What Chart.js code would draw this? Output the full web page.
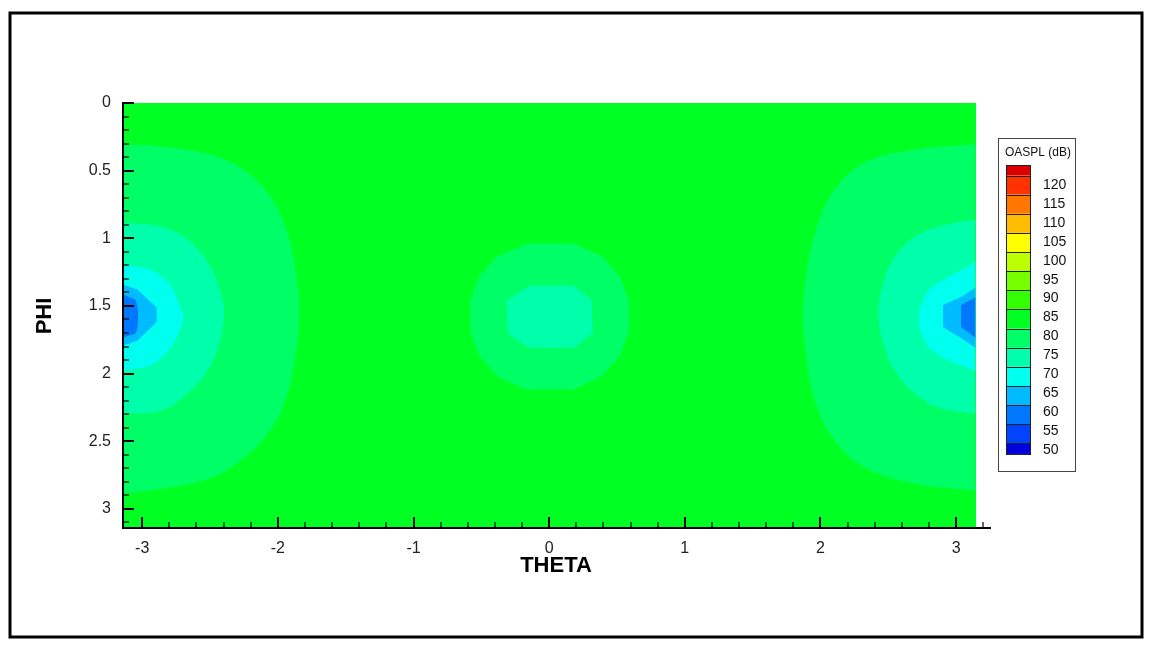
<!DOCTYPE html>
<html>
<head>
<meta charset="utf-8">
<title>OASPL directivity</title>
<script src="https://cdn.jsdelivr.net/npm/chart.js@4.4.0/dist/chart.umd.min.js"></script>
<style>
  html, body { margin: 0; padding: 0; background: #fff; }
  canvas { display: block; }
</style>
</head>
<body>
<canvas id="contour" width="1153" height="648"></canvas>
<script>
const PI = Math.PI;

// contour levels shown in the colour key (dB)
const levels = [120, 115, 110, 105, 100, 95, 90, 85, 80, 75, 70, 65, 60, 55, 50];
// flood colours, top of the key to the bottom
const floodColors = [
  '#dd0000', '#ff3300', '#ff7700', '#ffbb00', '#ffff00', '#bbff00', '#77ff00', '#33ff00',
  '#00ff22', '#00ff66', '#00ffaa', '#00ffee', '#00bbff', '#0077ff', '#0044ff', '#0000dd'
];

// axis tick labels
const thetaLabels = [-3, -2, -1, 0, 1, 2, 3];
const phiLabels = [0, 0.5, 1, 1.5, 2, 2.5, 3];

// contour outlines, [theta, phi]
const fieldOutline = [[-PI, 0], [PI, 0], [PI, PI], [-PI, PI]];

const left80 = [[-PI, 0.31], [-2.87, 0.325], [-2.50, 0.385], [-2.25, 0.50], [-2.075, 0.67], [-1.957, 0.89],
  [-1.883, 1.18], [-1.846, 1.55], [-1.883, 1.92], [-1.957, 2.22], [-2.075, 2.44], [-2.25, 2.62],
  [-2.50, 2.77], [-2.87, 2.85], [-PI, 2.88]];
const left75 = [[-PI, 0.888], [-2.866, 0.917], [-2.666, 1.013], [-2.518, 1.183], [-2.437, 1.361], [-2.40, 1.553],
  [-2.437, 1.775], [-2.518, 1.975], [-2.666, 2.145], [-2.866, 2.271], [-PI, 2.293]];
const left70 = [[-PI, 1.198], [-2.94, 1.235], [-2.806, 1.331], [-2.733, 1.479], [-2.70, 1.583],
  [-2.733, 1.701], [-2.806, 1.827], [-2.94, 1.938], [-PI, 1.975]];
const left65 = [[-PI, 1.346], [-3.035, 1.383], [-2.90, 1.509], [-2.90, 1.62], [-3.035, 1.753], [-PI, 1.79]];
const left60 = [[-PI, 1.42], [-3.05, 1.457], [-3.035, 1.53], [-3.035, 1.642], [-3.05, 1.70], [-PI, 1.73]];

const right80 = [[PI, 0.31], [2.696, 0.348], [2.326, 0.444], [2.105, 0.643], [1.987, 0.888], [1.913, 1.183],
  [1.876, 1.553], [1.913, 1.975], [1.987, 2.27], [2.105, 2.49], [2.326, 2.69], [2.696, 2.81], [PI, 2.86]];
const right75 = [[PI, 0.865], [2.873, 0.917], [2.696, 0.991], [2.548, 1.139], [2.467, 1.331], [2.43, 1.553],
  [2.467, 1.775], [2.548, 1.975], [2.696, 2.145], [2.873, 2.249], [PI, 2.293]];
const right70 = [[PI, 1.183], [2.947, 1.287], [2.799, 1.383], [2.733, 1.531], [2.733, 1.657],
  [2.799, 1.805], [2.947, 1.901], [PI, 1.975]];
const right65 = [[PI, 1.368], [3.043, 1.435], [2.91, 1.494], [2.91, 1.657], [3.043, 1.738], [PI, 1.805]];
const right60 = [[PI, 1.442], [3.043, 1.494], [3.043, 1.657], [PI, 1.731]];

const center80 = [[-0.17, 1.043], [0.177, 1.043], [0.384, 1.132], [0.517, 1.28], [0.583, 1.457], [0.583, 1.694],
  [0.517, 1.871], [0.384, 2.019], [0.177, 2.115], [-0.17, 2.115], [-0.377, 2.019], [-0.51, 1.871],
  [-0.576, 1.694], [-0.576, 1.457], [-0.51, 1.28], [-0.377, 1.132]];
const center75 = [[-0.148, 1.354], [0.177, 1.354], [0.31, 1.457], [0.318, 1.701], [0.185, 1.805],
  [-0.148, 1.805], [-0.303, 1.701], [-0.31, 1.457]];

// outer regions first, each filled with its flood colour
const bands = [
  { outline: fieldOutline, color: 8, tension: 0 },
  { outline: left80, color: 9, tension: 0.4 },
  { outline: right80, color: 9, tension: 0.4 },
  { outline: center80, color: 9, tension: 0 },
  { outline: left75, color: 10, tension: 0.4 },
  { outline: right75, color: 10, tension: 0.4 },
  { outline: center75, color: 10, tension: 0 },
  { outline: left70, color: 11, tension: 0.2 },
  { outline: right70, color: 11, tension: 0.2 },
  { outline: left65, color: 12, tension: 0 },
  { outline: right65, color: 12, tension: 0 },
  { outline: left60, color: 13, tension: 0 },
  { outline: right60, color: 13, tension: 0 }
];

// tick positions: minor every 0.2 in theta, 0.1 in phi
const thetaTicks = [];
for (let k = -15; k <= 16; k++) thetaTicks.push(+(k * 0.2).toFixed(1));
const phiTicks = [];
for (let k = 0; k <= 31; k++) phiTicks.push(+(k * 0.1).toFixed(1));

const FONT = "'Liberation Sans', Arial, sans-serif";

function tickText(value, shown) {
  const hit = shown.find(v => Math.abs(v - value) < 1e-6);
  return hit === undefined ? '' : String(hit);
}

// inward tick marks along both axes
const inwardTicks = {
  id: 'inwardTicks',
  afterDatasetsDraw(chart) {
    const { ctx, chartArea, scales } = chart;
    ctx.save();
    ctx.strokeStyle = '#000';
    scales.x.ticks.forEach(t => {
      const major = tickText(t.value, thetaLabels) !== '';
      const px = Math.round(scales.x.getPixelForValue(t.value));
      ctx.lineWidth = major ? 2 : 1.2;
      ctx.beginPath();
      ctx.moveTo(px, chartArea.bottom);
      ctx.lineTo(px, chartArea.bottom - (major ? 11 : 6));
      ctx.stroke();
    });
    scales.y.ticks.forEach(t => {
      const major = tickText(t.value, phiLabels) !== '';
      const py = Math.round(scales.y.getPixelForValue(t.value));
      ctx.lineWidth = major ? 2 : 1.2;
      ctx.beginPath();
      ctx.moveTo(chartArea.left, py);
      ctx.lineTo(chartArea.left + (major ? 11 : 6), py);
      ctx.stroke();
    });
    ctx.restore();
  }
};

// axis titles, colour key and the outer frame
const decorations = {
  id: 'decorations',
  afterDraw(chart) {
    const { ctx } = chart;
    ctx.save();

    ctx.fillStyle = '#000';
    ctx.font = 'bold 22px ' + FONT;
    ctx.textAlign = 'center';
    ctx.textBaseline = 'middle';
    ctx.fillText('THETA', 556, 566);
    ctx.translate(45, 316);
    ctx.rotate(-PI / 2);
    ctx.fillText('PHI', 0, 0);
    ctx.setTransform(1, 0, 0, 1, 0, 0);

    // colour key
    ctx.strokeStyle = '#444';
    ctx.lineWidth = 1;
    ctx.strokeRect(998.5, 138.5, 77, 333);
    ctx.fillStyle = '#111';
    ctx.font = '12px ' + FONT;
    ctx.textAlign = 'left';
    ctx.fillText('OASPL (dB)', 1005, 153);

    const top = 165, half = 10.5, step = 19.14, swX = 1006, swW = 25;
    const edges = [top, top + half];
    for (let i = 1; i <= 14; i++) edges.push(top + half + i * step);
    edges.push(edges[edges.length - 1] + half);
    for (let i = 0; i < floodColors.length; i++) {
      ctx.fillStyle = floodColors[i];
      ctx.fillRect(swX, edges[i], swW, edges[i + 1] - edges[i]);
    }
    ctx.strokeStyle = '#222';
    ctx.beginPath();
    edges.forEach(y => { ctx.moveTo(swX, Math.round(y) + 0.5); ctx.lineTo(swX + swW, Math.round(y) + 0.5); });
    ctx.moveTo(swX + 0.5, edges[0]); ctx.lineTo(swX + 0.5, edges[edges.length - 1]);
    ctx.moveTo(swX + swW - 0.5, edges[0]); ctx.lineTo(swX + swW - 0.5, edges[edges.length - 1]);
    ctx.stroke();

    ctx.fillStyle = '#111';
    ctx.font = '14px ' + FONT;
    const labTop = 185, labBottom = 450;
    levels.forEach((v, i) => {
      ctx.fillText(String(v), 1043, labTop + i * (labBottom - labTop) / (levels.length - 1));
    });

    // frame round the whole figure
    ctx.strokeStyle = '#000';
    ctx.lineWidth = 3;
    ctx.strokeRect(10, 13, 1132, 624);
    ctx.restore();
  }
};

const chart = new Chart(document.getElementById('contour'), {
  type: 'scatter',
  data: {
    datasets: bands.map((b, i) => ({
      data: b.outline.map(([x, y]) => ({ x, y })),
      showLine: true,
      fill: 'shape',
      backgroundColor: floodColors[b.color],
      borderColor: floodColors[b.color],
      borderWidth: 1,
      pointRadius: 0,
      pointHoverRadius: 0,
      tension: b.tension,
      order: bands.length - i
    }))
  },
  options: {
    responsive: false,
    devicePixelRatio: 1,
    animation: false,
    events: [],
    layout: { padding: { left: 0, top: 103, right: 163, bottom: 0 } },
    plugins: {
      legend: { display: false },
      tooltip: { enabled: false }
    },
    scales: {
      x: {
        type: 'linear',
        min: -PI,
        max: 3.25,
        grid: { display: false },
        border: { display: true, color: '#000', width: 2, z: 1 },
        afterBuildTicks: s => { s.ticks = thetaTicks.map(v => ({ value: v })); },
        afterFit: s => { s.height = 120; },
        ticks: {
          autoSkip: false,
          maxRotation: 0,
          padding: 3,
          color: '#222',
          font: { family: FONT, size: 16 },
          callback: v => tickText(v, thetaLabels)
        }
      },
      y: {
        type: 'linear',
        reverse: true,
        min: 0,
        max: PI,
        grid: { display: false },
        border: { display: true, color: '#000', width: 2, z: 1 },
        afterBuildTicks: s => { s.ticks = phiTicks.map(v => ({ value: v })); },
        afterFit: s => { s.width = 123; },
        ticks: {
          autoSkip: false,
          padding: 4,
          color: '#222',
          font: { family: FONT, size: 16 },
          callback: v => tickText(v, phiLabels)
        }
      }
    }
  },
  plugins: [inwardTicks, decorations]
});
</script>
</body>
</html>
